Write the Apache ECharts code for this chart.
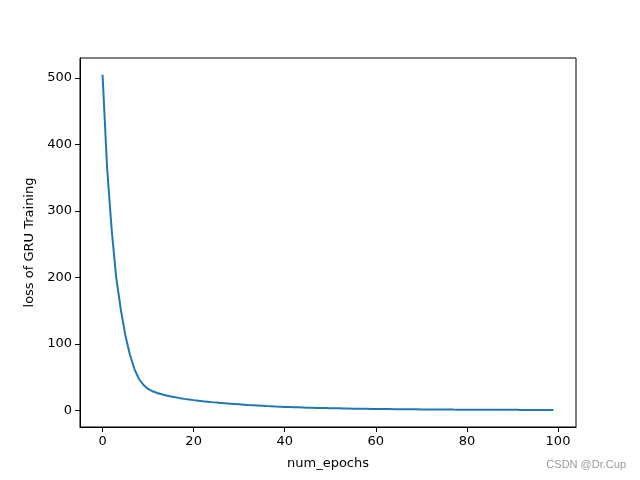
<!DOCTYPE html>
<html>
<head>
<meta charset="utf-8">
<script src="https://cdn.jsdelivr.net/npm/echarts@6/dist/echarts.min.js"></script>
<style>html,body{margin:0;padding:0;background:#fff}#c{width:640px;height:480px}</style>
</head>
<body>
<div id="c"></div>
<script>
const epochs = Array.from({length: 100}, (_, i) => i);
const lossValues = [
  505, 365, 272, 200, 152, 113, 84, 62, 47, 38,
  32, 28.5, 26, 24, 22.3, 20.8, 19.4, 18.2, 17.1, 16.1,
  15.2, 14.4, 13.6, 12.9, 12.2, 11.6, 11.0, 10.4, 9.9, 9.4,
  8.9, 8.4, 7.9, 7.5, 7.1, 6.7, 6.3, 6.0, 5.6, 5.3,
  5.0, 4.8, 4.5, 4.3, 4.1, 3.9, 3.7, 3.5, 3.3, 3.2,
  3.0, 2.9, 2.8, 2.6, 2.5, 2.4, 2.3, 2.2, 2.1, 2.0,
  1.9, 1.8, 1.75, 1.7, 1.6, 1.55, 1.5, 1.4, 1.35, 1.3,
  1.25, 1.2, 1.15, 1.1, 1.05, 1.0, 0.97, 0.93, 0.9, 0.86,
  0.83, 0.8, 0.77, 0.74, 0.71, 0.68, 0.66, 0.63, 0.61, 0.59,
  0.57, 0.55, 0.53, 0.51, 0.49, 0.47, 0.45, 0.44, 0.42, 0.41
];
const xTicks = [0, 20, 40, 60, 80, 100];
const yTicks = [0, 100, 200, 300, 400, 500];
const xLabel = 'num_epochs';
const yLabel = 'loss of GRU Training';
const watermark = 'CSDN @Dr.Cup';

const font = 'DejaVu Sans';
const isTick = (list, v) => list.some(t => Math.abs(t - v) < 1e-6);
const chart = echarts.init(document.getElementById('c'), null, {renderer: 'canvas'});
chart.setOption({
  animation: false,
  backgroundColor: '#fff',
  grid: {left: 80, right: 64, top: 58, bottom: 53, show: true, borderColor: '#000', borderWidth: 1, backgroundColor: 'transparent'},
  xAxis: {
    type: 'value', min: -4.95, max: 103.95, splitNumber: 5, minInterval: 20, maxInterval: 20,
    name: xLabel, nameLocation: 'middle', nameGap: 30,
    nameTextStyle: {fontFamily: font, fontSize: 13, color: '#000'},
    axisLine: {show: true, onZero: false, lineStyle: {color: '#000', width: 1}},
    axisTick: {show: true, length: 5, lineStyle: {color: '#000', width: 1}},
    axisLabel: {fontFamily: font, fontSize: 13, color: '#000', margin: 8,
      showMinLabel: false, showMaxLabel: false,
      formatter: v => isTick(xTicks, v) ? String(Math.round(v)) : ''},
    splitLine: {show: false}
  },
  yAxis: {
    type: 'value', min: -25.25, max: 530.25, splitNumber: 5, minInterval: 100, maxInterval: 100,
    name: yLabel, nameLocation: 'middle', nameGap: 44, nameRotate: 90,
    nameTextStyle: {fontFamily: font, fontSize: 13, color: '#000'},
    axisLine: {show: true, onZero: false, lineStyle: {color: '#000', width: 1}},
    axisTick: {show: true, length: 5, lineStyle: {color: '#000', width: 1}},
    axisLabel: {fontFamily: font, fontSize: 13, color: '#000', margin: 8,
      showMinLabel: false, showMaxLabel: false,
      formatter: v => isTick(yTicks, v) ? String(Math.round(v)) : ''},
    splitLine: {show: false}
  },
  series: [{
    type: 'line', data: epochs.map((e, i) => [e, lossValues[i]]),
    showSymbol: false, symbol: 'none',
    lineStyle: {color: '#1f77b4', width: 2}
  }],
  graphic: [{
    type: 'text', right: 14, top: 459,
    style: {text: watermark, fontFamily: 'Liberation Sans', fontSize: 11, fill: '#999'}
  }]
});
</script>
</body>
</html>
